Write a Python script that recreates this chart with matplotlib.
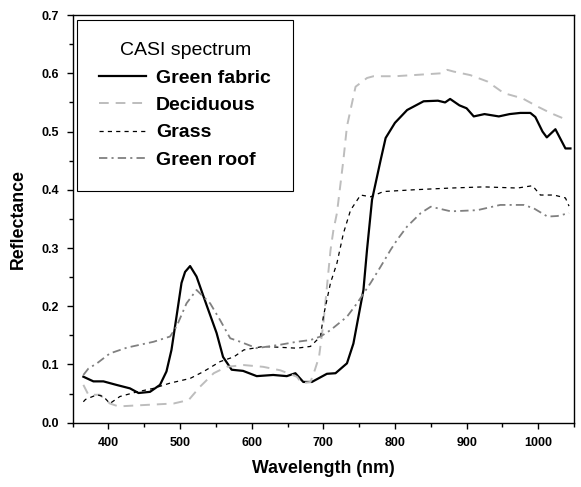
import matplotlib
matplotlib.use("Agg")
import matplotlib.pyplot as plt
from matplotlib.ticker import MultipleLocator

plt.rcParams['font.family'] = ['Liberation Sans', 'DejaVu Sans']
plt.rcParams['lines.scale_dashes'] = False

# Green fabric (solid black)
fabric_wl = [365, 379, 393, 411, 430, 442, 458, 472, 481, 488, 495, 502, 507, 514,
             523, 537, 551, 560, 572, 588, 607, 630, 649, 661, 672, 684, 705, 717,
             733, 742, 749, 756, 761, 768, 780, 787, 800, 817, 840, 860, 870, 877,
             890, 900, 910, 925, 945, 960, 975, 989, 996, 1006, 1012, 1024, 1038, 1045]
fabric_r = [0.079, 0.071, 0.071, 0.065, 0.059, 0.051, 0.053, 0.065, 0.088, 0.125,
            0.182, 0.240, 0.259, 0.269, 0.251, 0.202, 0.154, 0.113, 0.091, 0.089,
            0.080, 0.082, 0.080, 0.085, 0.070, 0.070, 0.084, 0.085, 0.102, 0.136,
            0.182, 0.228, 0.297, 0.383, 0.451, 0.489, 0.515, 0.537, 0.552, 0.553,
            0.550, 0.556, 0.545, 0.540, 0.526, 0.530, 0.526, 0.530, 0.532, 0.532,
            0.525, 0.500, 0.490, 0.504, 0.471, 0.471]

# Deciduous (light grey dashes)
decid_wl = [365, 372, 388, 402, 414, 444, 491, 512, 528, 547, 565, 589, 616, 640,
            663, 670, 682, 688, 694, 700, 710, 714, 719, 728, 733, 745, 761, 770,
            800, 826, 864, 873, 882, 905, 929, 952, 978, 999, 1017, 1040]
decid_r = [0.065, 0.048, 0.048, 0.033, 0.028, 0.030, 0.033, 0.039, 0.062, 0.085,
           0.096, 0.099, 0.096, 0.090, 0.079, 0.068, 0.070, 0.090, 0.113, 0.170,
           0.296, 0.330, 0.360, 0.451, 0.509, 0.577, 0.592, 0.595, 0.595, 0.597,
           0.600, 0.606, 0.603, 0.597, 0.586, 0.566, 0.557, 0.543, 0.532, 0.520]

# Grass (black short dashes)
grass_wl = [365, 368, 384, 393, 402, 416, 440, 463, 486, 514, 533, 556, 575, 589,
            616, 663, 682, 696, 700, 710, 719, 728, 738, 752, 766, 784, 826, 878,
            924, 971, 992, 1003, 1022, 1038, 1043]
grass_r = [0.036, 0.040, 0.048, 0.045, 0.033, 0.045, 0.053, 0.059, 0.068, 0.076,
           0.088, 0.105, 0.113, 0.125, 0.131, 0.128, 0.131, 0.148, 0.182, 0.240,
           0.274, 0.325, 0.365, 0.391, 0.388, 0.397, 0.400, 0.403, 0.405, 0.403,
           0.407, 0.391, 0.391, 0.386, 0.372]

# Green roof (grey dash-dot)
roof_wl = [365, 372, 384, 402, 426, 463, 486, 495, 509, 523, 542, 556, 570, 584,
           607, 640, 663, 682, 696, 710, 733, 747, 766, 780, 794, 803, 817, 836,
           850, 878, 915, 947, 980, 994, 1013, 1027, 1043]
roof_r = [0.082, 0.093, 0.102, 0.119, 0.129, 0.139, 0.148, 0.165, 0.205, 0.228,
          0.205, 0.176, 0.145, 0.139, 0.128, 0.134, 0.139, 0.142, 0.148, 0.159,
          0.182, 0.205, 0.240, 0.268, 0.297, 0.314, 0.337, 0.360, 0.371, 0.363,
          0.365, 0.374, 0.374, 0.368, 0.354, 0.355, 0.360]

fig = plt.figure(figsize=(5.81, 4.87), dpi=100)
ax = fig.add_axes([0.125, 0.132, 0.863, 0.837])

ax.plot(fabric_wl, fabric_r, color='black', lw=1.6, label='Green fabric')
ax.plot(decid_wl, decid_r, color='#bdbdbd', lw=1.4, dashes=(7, 5), label='Deciduous')
ax.plot(grass_wl, grass_r, color='black', lw=0.9, dashes=(3, 3), label='Grass')
ax.plot(roof_wl, roof_r, color='#808080', lw=1.3, dashes=(6, 3, 1.5, 3), label='Green roof')

ax.set_xlim(350, 1050)
ax.set_ylim(0, 0.7)
ax.xaxis.set_major_locator(MultipleLocator(100))
ax.xaxis.set_minor_locator(MultipleLocator(50))
ax.yaxis.set_major_locator(MultipleLocator(0.1))
ax.yaxis.set_minor_locator(MultipleLocator(0.05))
ax.set_xticks([400, 500, 600, 700, 800, 900, 1000])
ax.yaxis.set_major_formatter(matplotlib.ticker.FormatStrFormatter('%.1f'))
ax.tick_params(which='major', direction='out', length=4, width=1, labelsize=9, pad=6)
ax.tick_params(which='minor', direction='out', length=3, width=1)
for lab in ax.get_xticklabels() + ax.get_yticklabels():
    lab.set_fontweight('bold')
for s in ax.spines.values():
    s.set_linewidth(1)

ax.set_xlabel('Wavelength (nm)', fontsize=12.8, fontweight='bold', labelpad=8)
ax.set_ylabel('Reflectance', fontsize=12.8, fontweight='bold', labelpad=10)

leg = ax.legend(loc='upper left', bbox_to_anchor=(0.009, 0.988), borderaxespad=0,
                title='CASI spectrum', fancybox=False, edgecolor='black', framealpha=1,
                fontsize=14, title_fontsize=14, handlelength=2.4, borderpad=1.15,
                labelspacing=0.5, handletextpad=0.5)
leg.get_frame().set_linewidth(0.8)
for t in leg.get_texts():
    t.set_fontweight('bold')

fig.savefig('out.png', dpi=100)
